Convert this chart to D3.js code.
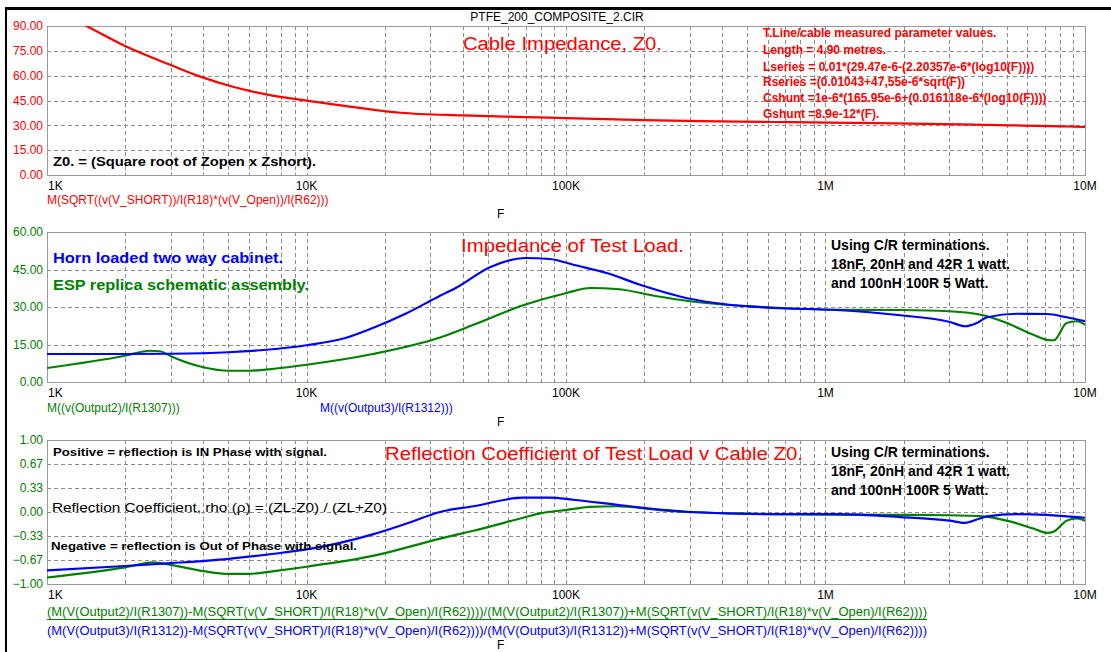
<!DOCTYPE html>
<html>
<head>
<meta charset="utf-8">
<script src="https://cdn.jsdelivr.net/npm/d3@7"></script>
<style>
  body { margin: 0; background: #fff; }
  svg text { font-family: "Liberation Sans", Arial, sans-serif; }
</style>
</head>
<body>
<div id="chart"></div>
<script>
"use strict";

// ---- data (frequency in Hz) ----
var freqZ0  = [1000, 1420, 2000, 3000, 3900, 5200, 7000, 10000, 12700, 23000, 40000, 70000, 100000, 200000, 330000, 628000, 1240000, 2450000, 4700000, 8700000, 10000000];
var z0Value = [102, 90, 77.9, 66.4, 59.4, 53.3, 48.7, 44.9, 42.7, 37.6, 36.0, 35.0, 34.4, 33.2, 32.5, 32.0, 31.5, 30.9, 30.1, 29.3, 29.0];

var freqHorn = [1000, 2000, 3000, 5000, 7000, 10000, 14000, 18000, 24300, 32700, 37900, 50900, 69500, 86700, 106700, 143500, 193000, 300000, 403000, 628000, 1100000, 1940000, 3020000, 3450000, 3830000, 4200000, 5460000, 7130000, 8500000, 10000000];
var hornZ    = [11.2, 11.2, 11.3, 11.9, 12.9, 14.7, 17.5, 21.6, 27.5, 34.5, 37.8, 45.9, 49.6, 49.2, 46.9, 43.6, 38.9, 33.3, 31.2, 29.6, 28.8, 26.7, 24.0, 22.3, 23.6, 25.9, 27.3, 27.2, 25.9, 24.3];

var freqEsp = [1000, 2000, 2490, 2730, 3000, 4000, 5000, 6000, 7500, 10000, 18000, 32700, 44000, 68400, 100600, 124000, 157000, 224000, 300000, 628000, 1070000, 1940000, 3000000, 4060000, 5000000, 6320000, 7330000, 7600000, 8490000, 9300000, 10000000];
var espZ    = [5.6, 10.5, 12.5, 12.3, 10.3, 5.9, 4.5, 4.5, 5.3, 6.9, 11.2, 17.8, 22.9, 30.7, 35.6, 37.6, 37.2, 34.3, 32.3, 29.8, 28.9, 28.8, 28.3, 26.7, 23.6, 18.9, 16.7, 16.7, 23.6, 24.3, 22.9];

var freqHornRho = [1000, 2000, 3000, 5000, 7500, 10000, 18000, 24300, 32700, 44000, 68400, 86700, 106700, 166000, 300000, 628000, 1100000, 1940000, 3000000, 3450000, 3830000, 4200000, 5460000, 7130000, 8500000, 10000000];
var hornRho     = [-0.81, -0.75, -0.71, -0.65, -0.58, -0.52, -0.31, -0.16, 0.0, 0.08, 0.20, 0.20, 0.17, 0.09, 0.0, -0.03, -0.03, -0.07, -0.12, -0.15, -0.105, -0.06, -0.03, -0.04, -0.06, -0.08];

var freqEspRho = [1000, 2000, 2560, 3000, 4000, 5000, 6000, 7500, 10000, 18000, 32700, 44000, 68400, 79400, 100600, 124000, 157000, 224000, 300000, 468000, 628000, 1940000, 3000000, 4060000, 5000000, 6320000, 7130000, 7600000, 8490000, 9300000, 10000000];
var espRho     = [-0.91, -0.77, -0.70, -0.735, -0.82, -0.86, -0.86, -0.82, -0.76, -0.61, -0.37, -0.26, -0.08, -0.02, 0.03, 0.07, 0.08, 0.03, 0.0, -0.02, -0.03, -0.04, -0.045, -0.06, -0.12, -0.23, -0.29, -0.27, -0.12, -0.09, -0.12];

var xTickValues = [1e3, 1e4, 1e5, 1e6, 1e7];
var xTickLabels = ["1K", "10K", "100K", "1M", "10M"];
var z0Ticks  = [0, 15, 30, 45, 60, 75, 90];
var zTicks   = [0, 15, 30, 45, 60];
var rhoTicks = [-1, -0.67, -0.33, 0, 0.33, 0.67, 1];

var RED = "#ff0000", BLUE = "#0000ff", GREEN = "#008000";

var width = 1111, height = 652;
var left = 47, right = 1085;

var svg = d3.select("#chart").append("svg")
    .attr("width", width)
    .attr("height", height);

// outer frame (only top and left edges show)
svg.append("line").attr("x1", 5).attr("x2", width).attr("y1", 8.5).attr("y2", 8.5)
    .attr("stroke", "#000").attr("stroke-width", 3);
svg.append("line").attr("x1", 6).attr("x2", 6).attr("y1", 7).attr("y2", height)
    .attr("stroke", "#000").attr("stroke-width", 2);

svg.append("text").attr("x", 557).attr("y", 17).attr("dy", "0.35em")
    .attr("text-anchor", "middle").attr("font-size", 12).attr("fill", "#000")
    .text("PTFE_200_COMPOSITE_2.CIR");

var x = d3.scaleLog().domain([1e3, 1e7]).range([left, right]);

// minor + major log grid positions
var gridFreqs = [];
for (var d = 3; d < 7; d++) {
    for (var m = 1; m < 10; m++) gridFreqs.push(m * Math.pow(10, d));
}
gridFreqs.push(1e7);

var clipCount = 0;

function drawPanel(top, bottom, yDomain, yTicks, tickColor, series) {
    var y = d3.scaleLinear().domain(yDomain).range([bottom, top]);
    var g = svg.append("g");

    var grid = g.append("g")
        .attr("stroke", "#8c8c8c")
        .attr("stroke-dasharray", "4,3")
        .attr("shape-rendering", "crispEdges");
    grid.selectAll(".vg").data(gridFreqs.slice(1, -1)).enter().append("line")
        .attr("x1", function (f) { return Math.round(x(f)) + 0.5; })
        .attr("x2", function (f) { return Math.round(x(f)) + 0.5; })
        .attr("y1", top).attr("y2", bottom);
    grid.selectAll(".hg").data(yTicks.slice(1, -1)).enter().append("line")
        .attr("x1", left).attr("x2", right)
        .attr("y1", function (v) { return Math.round(y(v)) + 0.5; })
        .attr("y2", function (v) { return Math.round(y(v)) + 0.5; });

    g.append("rect")
        .attr("x", left + 0.5).attr("y", top + 0.5)
        .attr("width", right - left).attr("height", bottom - top)
        .attr("fill", "none").attr("stroke", "#9a9a9a")
        .attr("shape-rendering", "crispEdges");

    // y tick labels
    g.selectAll(".yl").data(yTicks).enter().append("text")
        .attr("x", 43).attr("y", function (v) { return y(v); })
        .attr("dy", "0.35em").attr("text-anchor", "end")
        .attr("font-size", 12).attr("fill", tickColor)
        .text(function (v) { return d3.format(".2f")(v); });

    // x tick labels
    g.selectAll(".xl").data(xTickValues).enter().append("text")
        .attr("x", function (f, i) { return i === 0 ? x(f) + 1 : x(f); })
        .attr("y", bottom + 11).attr("dy", "0.35em")
        .attr("text-anchor", function (f, i) { return i === 0 ? "start" : "middle"; })
        .attr("font-size", 12).attr("fill", "#000")
        .text(function (f, i) { return xTickLabels[i]; });

    var clipId = "clip" + (clipCount++);
    svg.append("clipPath").attr("id", clipId).append("rect")
        .attr("x", left).attr("y", top).attr("width", right - left).attr("height", bottom - top);

    var line = d3.line()
        .x(function (p) { return x(p[0]); })
        .y(function (p) { return y(p[1]); })
        .curve(d3.curveMonotoneX);

    series.forEach(function (s) {
        g.append("path")
            .datum(d3.zip(s.freq, s.values))
            .attr("clip-path", "url(#" + clipId + ")")
            .attr("fill", "none")
            .attr("stroke", s.color)
            .attr("stroke-width", 2.2)
            .attr("d", line);
    });
    return g;
}

function label(txt, px, py, opts) {
    opts = opts || {};
    var t = svg.append("text")
        .attr("x", px).attr("y", py).attr("dy", "0.35em")
        .attr("font-size", opts.size || 12)
        .attr("font-weight", opts.bold ? "bold" : "normal")
        .attr("fill", opts.color || "#000")
        .attr("text-anchor", opts.anchor || "start")
        .text(txt);
    if (opts.len) t.attr("textLength", opts.len).attr("lengthAdjust", "spacingAndGlyphs");
    return t;
}

/////////////////////////////////////////////
// top panel: cable impedance
drawPanel(26, 175, [0, 90], z0Ticks, RED, [
    { freq: freqZ0, values: z0Value, color: RED }
]);
label("Cable Impedance, Z0.", 463, 44, { size: 18, color: RED, len: 199 });
var paramLines = [
    "T.Line/cable measured parameter values.",
    "Length = 4.90 metres.",
    "Lseries = 0.01*(29.47e-6-(2.20357e-6*(log10(F))))",
    "Rseries =(0.01043+47,55e-6*sqrt(F))",
    "Cshunt =1e-6*(165.95e-6+(0.016118e-6*(log10(F))))",
    "Gshunt =8.9e-12*(F)."
];
var paramY = [33, 50, 66.5, 82, 98, 114];
paramLines.forEach(function (s, i) {
    label(s, 763, paramY[i], { size: 12, bold: true, color: RED });
});
label("Z0. = (Square root of Zopen x Zshort).", 53, 161, { size: 13, bold: true, len: 263 });
label("M(SQRT((v(V_SHORT))/I(R18)*(v(V_Open))/I(R62)))", 47, 200, { size: 12, color: RED });
label("F", 497, 214, { size: 12 });

/////////////////////////////////////////////
// middle panel: impedance of test load
drawPanel(232, 382, [0, 60], zTicks, GREEN, [
    { freq: freqEsp, values: espZ, color: GREEN },
    { freq: freqHorn, values: hornZ, color: BLUE }
]);
label("Horn loaded two way cabinet.", 53, 258, { size: 14, bold: true, color: BLUE, len: 230 });
label("ESP replica schematic assembly.", 53, 285, { size: 14, bold: true, color: GREEN, len: 256 });
label("Impedance of Test Load.", 461, 246, { size: 18, color: RED, len: 223 });
var termLines = ["Using C/R terminations.", "18nF, 20nH and 42R 1 watt.", "and 100nH 100R 5 Watt."];
termLines.forEach(function (s, i) {
    label(s, 831, [245, 264, 283][i], { size: 14, bold: true });
});
label("M((v(Output2)/I(R1307)))", 47, 408, { size: 12, color: GREEN });
label("M((v(Output3)/I(R1312)))", 320, 408, { size: 12, color: BLUE });
label("F", 497, 422, { size: 12 });

/////////////////////////////////////////////
// bottom panel: reflection coefficient
drawPanel(440, 584, [-1, 1], rhoTicks, GREEN, [
    { freq: freqEspRho, values: espRho, color: GREEN },
    { freq: freqHornRho, values: hornRho, color: BLUE }
]);
label("Positive = reflection is IN Phase with signal.", 53, 452, { size: 11, bold: true, len: 274 });
label("Reflection Coefficient of Test Load v Cable Z0.", 385, 454, { size: 18, color: RED, len: 418 });
label("Reflection Coefficient, rho (\u03c1) = (ZL-Z0) / (ZL+Z0)", 52, 507, { size: 13, len: 335 });
label("Negative = reflection is Out of Phase with signal.", 51, 546, { size: 11, bold: true, len: 306 });
termLines.forEach(function (s, i) {
    label(s, 831, [452, 471, 490][i], { size: 14, bold: true });
});
label("(M(V(Output2)/I(R1307))-M(SQRT(v(V_SHORT)/I(R18)*v(V_Open)/I(R62))))/(M(V(Output2)/I(R1307))+M(SQRT(v(V_SHORT)/I(R18)*v(V_Open)/I(R62))))", 47, 612, { size: 12, color: GREEN, len: 880 });
svg.append("line").attr("x1", 47).attr("x2", 47 + 880).attr("y1", 619.5).attr("y2", 619.5)
    .attr("stroke", GREEN).attr("stroke-width", 1);
label("(M(V(Output3)/I(R1312))-M(SQRT(v(V_SHORT)/I(R18)*v(V_Open)/I(R62))))/(M(V(Output3)/I(R1312))+M(SQRT(v(V_SHORT)/I(R18)*v(V_Open)/I(R62))))", 47, 631, { size: 12, color: BLUE, len: 880 });
label("F", 497, 645, { size: 12 });
</script>
</body>
</html>
